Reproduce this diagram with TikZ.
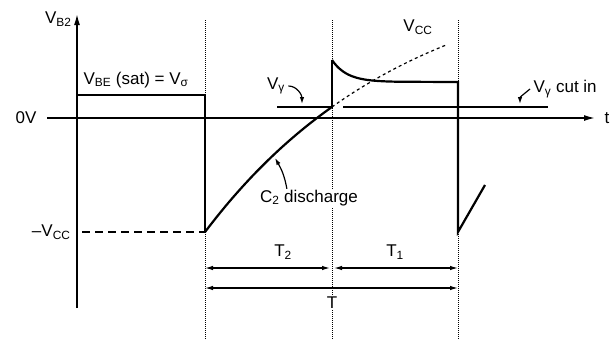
\documentclass[tikz,border=0pt]{standalone}
\usepackage{fontspec}
\setmainfont{Liberation Sans}
\usetikzlibrary{calc,arrows.meta}

\begin{document}
\begin{tikzpicture}[x=1pt, y=-1pt, font=\fontsize{17}{19}\selectfont,
  axis/.style={line width=1.5pt},
  level/.style={line width=2.2pt},
  guide/.style={line width=1pt, densely dotted},
  dim/.style={line width=1.2pt, {Latex[length=8pt,width=4.5pt]}-{Latex[length=8pt,width=4.5pt]}},
  note/.style={line width=1.2pt, -{Latex[length=7pt,width=4.5pt]}}]
  \useasboundingbox (0,0) rectangle (616,340);
  \coordinate (A) at (205,118);
  \coordinate (B) at (332,118);
  \coordinate (C) at (458,118);
  % dotted time marks
  \draw[guide] (205,20) -- (205,340);
  \draw[guide] (332,20) -- (332,340);
  \draw[guide] (458,20) -- (458,340);
  % axes
  \draw[axis, -{Latex[length=11pt,width=6pt]}] (77,308) -- (77,14);
  \draw[axis, -{Latex[length=11pt,width=6pt]}] (47,118) -- (595,118);
  \node (vbtwo) [anchor=east] at (75,19) {V\textsubscript{B2}};
  \node (zero) [anchor=east] at (40,118) {0V};
  \node (tax) at (607,118) {t};
  \node (mvcc) [anchor=east] at (74,232) {–V\textsubscript{CC}};
  % waveform
  \draw[level] (77,95) -- (205,95) -- (205,232);
  \draw[line width=1.6pt, dash pattern=on 8pt off 5pt] (82,232) -- (205,232);
  \draw[level, domain=205:332, samples=40] plot (\x, {232-269*(1-exp(-(\x-205)/203))});
  \draw[line width=1.2pt, dashed, domain=332:447, samples=30] plot (\x, {232-269*(1-exp(-(\x-205)/203))});
  \draw[level] (277,107) -- (332,107) -- (332,60);
  \draw[level, domain=332:400, samples=30] plot (\x, {82-22*exp(-(\x-332)/15)}) -- (458,82) -- (458,232) -- (485,185);
  \draw[level] (343,107) -- (548,107);
  % labels
  \node (vsat) [anchor=west] at (80,80) {V\textsubscript{BE} (sat) = V\textsubscript{σ}};
  \node (vg) at (276,86) {V\textsubscript{γ}};
  \draw[note] (vg.east) to[out=0,in=90] (302,104);
  \node (vcc) at (418,27) {V\textsubscript{CC}};
  \node (vgcut) [anchor=west] at (530,89) {V\textsubscript{γ} cut in};
  \draw[note] (vgcut.west) to[out=220,in=90] (520,104);
  \node (dis) [fill=white, inner sep=1pt] at (309,198) {C\textsubscript{2} discharge};
  \draw[note] (dis.north west) ++(28,0) to[out=100,in=-60] (275,158);
  % periods
  \draw[dim] (205,268) -- (330,268);
  \draw[dim] (334,268) -- (458,268);
  \draw[dim] (205,288) -- (458,288);
  \node (ttwo) at (283,252) {T\textsubscript{2}};
  \node (tone) at (395,252) {T\textsubscript{1}};
  \node (tper) [fill=white, inner sep=1pt] at (332,303) {T};
\end{tikzpicture}
\end{document}
